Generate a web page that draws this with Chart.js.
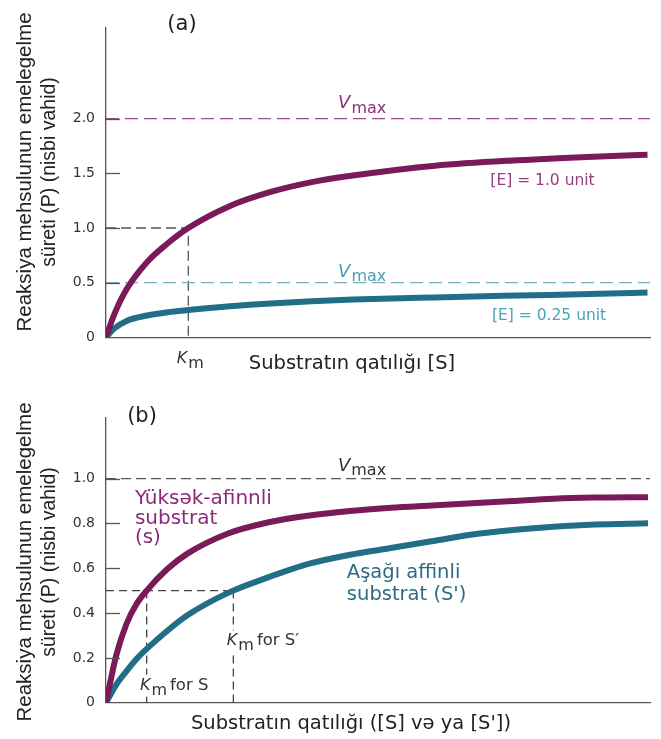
<!DOCTYPE html>
<html lang="az">
<head>
<meta charset="UTF-8">
<title>Substrat qatılığı və reaksiya sürəti</title>
<script src="https://cdn.jsdelivr.net/npm/chart.js@4.4.1/dist/chart.umd.min.js"></script>
<style>
  body { margin: 0; background: #fff; }
  .wrap { position: relative; width: 661px; }
  canvas { display: block; }
</style>
</head>
<body>
<div class="wrap" style="height:390px"><canvas id="chartA"></canvas></div>
<div class="wrap" style="height:349px"><canvas id="chartB"></canvas></div>

<script>
// (a) same substrate, two enzyme amounts. [S] in units of Km
const sA = [0, 0.1, 0.25, 0.5, 0.75, 1, 1.5, 2, 2.5, 3, 4, 5, 6, 6.58];
const pE100 = [0, 0.21, 0.44, 0.69, 0.86, 1.0, 1.20, 1.33, 1.42, 1.48, 1.57, 1.62, 1.655, 1.67];
const pE025 = [0, 0.08, 0.15, 0.20, 0.23, 0.25, 0.285, 0.31, 0.33, 0.345, 0.365, 0.382, 0.398, 0.41];
const vmaxA = [2.0, 0.5];
const kmA = 1;
const yTicksA = [0, 0.5, 1, 1.5, 2];
const yLabelsA = ['0', '0.5', '1.0', '1.5', '2.0'];
const xMaxA = 6.61, yMaxA = 2.83;

// (b) two substrates, one enzyme. [S] in units of Km for S
const sB = [0, 0.25, 0.5, 0.75, 1, 1.5, 2, 3, 4, 5, 6, 7, 8, 9, 10, 11, 12, 13.32];
const pHigh = [0, 0.21, 0.35, 0.44, 0.50, 0.595, 0.665, 0.755, 0.805, 0.835, 0.855, 0.87, 0.88, 0.89, 0.90, 0.91, 0.915, 0.917];
const pLow = [0, 0.08, 0.14, 0.195, 0.24, 0.32, 0.39, 0.49, 0.56, 0.62, 0.66, 0.69, 0.72, 0.75, 0.77, 0.785, 0.795, 0.80];
const vmaxB = 1.0;
const kmB = [1, 3.13];
const yTicksB = [0, 0.2, 0.4, 0.6, 0.8, 1.0];
const yLabelsB = ['0', '0.2', '0.4', '0.6', '0.8', '1.0'];
const xMaxB = 13.37, yMaxB = 1.27;

const PURPLE = '#7a1a58';
const TEAL = '#236e87';
const FONT = '"DejaVu Sans", sans-serif';

function curve(xs, ys, color) {
  return {
    data: xs.map((x, i) => ({ x: x, y: ys[i] })),
    borderColor: color, borderWidth: 6, borderCapStyle: 'butt',
    pointRadius: 0, cubicInterpolationMode: 'monotone', fill: false
  };
}

function dashed(points, color, dash) {
  return {
    data: points, borderColor: color, borderWidth: 1.3, borderDash: dash,
    pointRadius: 0, tension: 0, fill: false
  };
}

function options(xMax, yMax, yTicks, yLabels, xAxisH) {
  return {
    responsive: true,
    maintainAspectRatio: false,
    animation: false,
    layout: { autoPadding: false, padding: { top: 28, right: 11, left: 0, bottom: 0 } },
    plugins: { legend: { display: false }, tooltip: { enabled: false } },
    scales: {
      x: {
        type: 'linear', min: 0, max: xMax,
        grid: { display: false },
        border: { color: '#555', width: 1.3 },
        ticks: { display: false },
        afterFit: s => { s.height = xAxisH; }
      },
      y: {
        type: 'linear', min: 0, max: yMax,
        grid: { display: false, drawTicks: false },
        border: { color: '#555', width: 1.3 },
        afterBuildTicks: s => { s.ticks = yTicks.map(v => ({ value: v })); },
        ticks: {
          padding: 11, color: '#333',
          font: { family: 'DejaVu Sans', size: 14 },
          callback: (v, i) => yLabels[i]
        },
        afterFit: s => { s.width = 106; }
      }
    }
  };
}

// short inward tick marks on the y axis
function innerTicks(chart, values) {
  const { ctx, chartArea, scales } = chart;
  ctx.save();
  ctx.strokeStyle = '#555';
  ctx.lineWidth = 1.3;
  values.forEach(v => {
    if (v === 0) return;
    const y = Math.round(scales.y.getPixelForValue(v)) + 0.5;
    ctx.beginPath();
    ctx.moveTo(chartArea.left, y);
    ctx.lineTo(chartArea.left + 14, y);
    ctx.stroke();
  });
  ctx.restore();
}

function at(chart, x, y) {
  return [chart.scales.x.getPixelForValue(x), chart.scales.y.getPixelForValue(y)];
}

// italic symbol with a subscript, e.g. V max, K m
function symbol(ctx, x, y, main, low, color, size, lowSize, drop) {
  ctx.fillStyle = color;
  ctx.textAlign = 'left';
  ctx.textBaseline = 'alphabetic';
  ctx.font = `italic ${size}px ${FONT}`;
  ctx.fillText(main, x, y);
  const w = ctx.measureText(main).width + 1;
  ctx.font = `${lowSize}px ${FONT}`;
  ctx.fillText(low, x + w, y + drop);
  return w + ctx.measureText(low).width;
}

function text(ctx, str, x, y, color, size, align) {
  ctx.fillStyle = color;
  ctx.textAlign = align || 'left';
  ctx.textBaseline = 'alphabetic';
  ctx.font = `${size}px ${FONT}`;
  ctx.fillText(str, x, y);
}

function yTitle(ctx, cx1, cy1, cx2, cy2) {
  const lines = [
    ['Reaksiya mehsulunun emelegelme', cx1, cy1, 20.5],
    ['süreti (P) (nisbi vahid)', cx2, cy2, 19.5]
  ];
  lines.forEach(l => {
    ctx.save();
    ctx.fillStyle = '#222';
    ctx.textAlign = 'center';
    ctx.textBaseline = 'middle';
    ctx.translate(l[1], l[2]);
    ctx.rotate(-Math.PI / 2);
    ctx.font = `${l[3]}px "Liberation Sans", sans-serif`;
    ctx.fillText(l[0], 0, 0);
    ctx.restore();
  });
}

const labelsA = {
  id: 'labelsA',
  afterDraw(chart) {
    const ctx = chart.ctx;
    innerTicks(chart, yTicksA);
    ctx.save();
    text(ctx, '(a)', 182, 30, '#222', 21, 'center');
    yTitle(ctx, 25, 172, 50, 172);

    let p = at(chart, 2.82, 2.1);
    symbol(ctx, p[0], p[1], 'V', 'max', '#8e2f7c', 18, 16, 5);
    p = at(chart, 2.82, 0.552);
    symbol(ctx, p[0], p[1], 'V', 'max', '#4a9fb5', 18, 16, 4);

    p = at(chart, 4.67, 1.393);
    text(ctx, '[E] = 1.0 unit', p[0], p[1], '#94407f', 15.5);
    p = at(chart, 4.69, 0.158);
    text(ctx, '[E] = 0.25 unit', p[0], p[1], '#4aa3b8', 15.5);

    p = at(chart, 0.86, -0.235);
    symbol(ctx, p[0], p[1], 'K', 'm', '#333', 16, 16, 5);
    text(ctx, 'Substratın qatılığı [S]', 352, 369, '#222', 19.5, 'center');
    ctx.restore();
  }
};

const labelsB = {
  id: 'labelsB',
  afterDraw(chart) {
    const ctx = chart.ctx;
    innerTicks(chart, yTicksB);
    ctx.save();
    text(ctx, '(b)', 142, 32, '#222', 21, 'center');
    yTitle(ctx, 25, 172, 50, 172);

    let p = at(chart, 5.70, 1.033);
    symbol(ctx, p[0], p[1], 'V', 'max', '#333', 18, 16, 4);

    p = at(chart, 0.71, 0.886);
    ['Yüksək-afinnli', 'substrat', '(s)'].forEach((s, i) =>
      text(ctx, s, p[0], p[1] + i * 19.5, '#8a2a78', 20));

    p = at(chart, 5.92, 0.555);
    ['Aşağı affinli', "substrat (S')"].forEach((s, i) =>
      text(ctx, s, p[0], p[1] + i * 22, '#2d6b85', 19.5));

    // Km labels sit on white so the guide lines break around them
    [[0.835, 0.058, 'for S'], [2.97, 0.256, 'for S\u2032']].forEach(k => {
      const q = at(chart, k[0], k[1]);
      ctx.font = `16.5px ${FONT}`;
      const w = 30 + ctx.measureText(k[2]).width;
      ctx.fillStyle = '#fff';
      ctx.fillRect(q[0] - 1, q[1] - 15, w, 22);
      const sw = symbol(ctx, q[0], q[1], 'K', 'm', '#333', 16, 16, 5);
      text(ctx, k[2], q[0] + sw + 3, q[1], '#333', 16.5);
    });

    text(ctx, 'Substratın qatılığı ([S] və ya [S\'])', 351, 339, '#222', 19.5, 'center');
    ctx.restore();
  }
};

new Chart(document.getElementById('chartA'), {
  type: 'line',
  data: {
    datasets: [
      curve(sA, pE100, PURPLE),
      curve(sA, pE025, TEAL),
      dashed([{ x: 0, y: vmaxA[0] }, { x: xMaxA, y: vmaxA[0] }], '#9b4a8c', [13, 6]),
      dashed([{ x: 0, y: vmaxA[1] }, { x: xMaxA, y: vmaxA[1] }], '#7ab1c0', [13, 6]),
      dashed([{ x: 0, y: 1 }, { x: kmA, y: 1 }, { x: kmA, y: 0 }], '#555', [10, 5])
    ]
  },
  options: options(xMaxA, yMaxA, yTicksA, yLabelsA, 52.7),
  plugins: [labelsA]
});

new Chart(document.getElementById('chartB'), {
  type: 'line',
  data: {
    datasets: [
      curve(sB, pHigh, PURPLE),
      curve(sB, pLow, TEAL),
      dashed([{ x: 0, y: vmaxB }, { x: xMaxB, y: vmaxB }], '#555', [10, 5]),
      dashed([{ x: 0, y: 0.5 }, { x: kmB[1], y: 0.5 }], '#444', [8, 5]),
      dashed([{ x: kmB[0], y: 0.5 }, { x: kmB[0], y: 0 }], '#444', [8, 5]),
      dashed([{ x: kmB[1], y: 0.5 }, { x: kmB[1], y: 0 }], '#444', [8, 5])
    ]
  },
  options: options(xMaxB, yMaxB, yTicksB, yLabelsB, 36.3),
  plugins: [labelsB]
});
</script>
</body>
</html>
